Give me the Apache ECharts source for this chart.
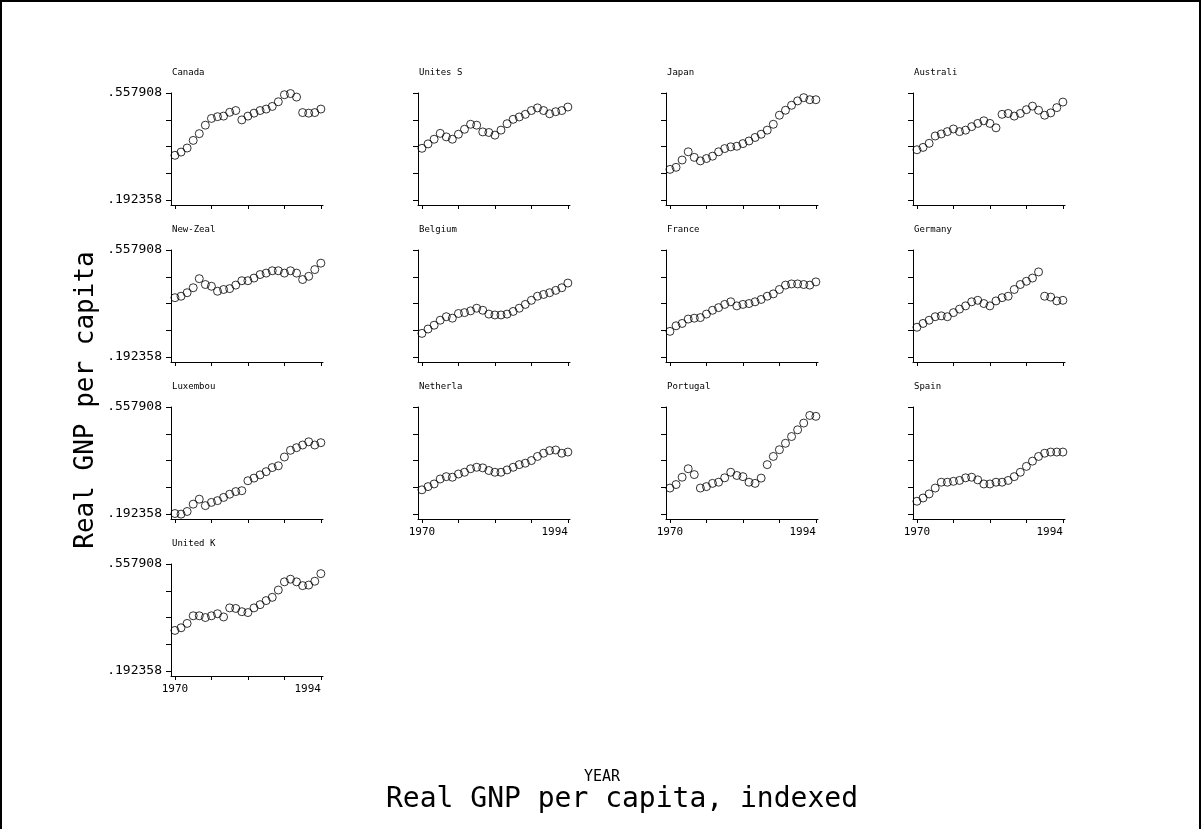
<!DOCTYPE html>
<html>
<head>
<meta charset="utf-8">
<title>Real GNP per capita, indexed</title>
<script src="https://cdn.jsdelivr.net/npm/echarts@6/dist/echarts.min.js"></script>
<style>
  html, body { margin: 0; padding: 0; background: #fff; }
  #chart { width: 1202px; height: 829px; }
</style>
</head>
<body>
<div id="chart"></div>
<script>
// Years on the horizontal axis of every panel
const years = [1970, 1971, 1972, 1973, 1974, 1975, 1976, 1977, 1978, 1979, 1980, 1981, 1982,
               1983, 1984, 1985, 1986, 1987, 1988, 1989, 1990, 1991, 1992, 1993, 1994];

// Real GNP per capita, indexed — one array per country
const canada        = [0.345, 0.356, 0.370, 0.396, 0.419, 0.448, 0.471, 0.477, 0.479, 0.492, 0.498, 0.466, 0.479, 0.489, 0.498, 0.503, 0.512, 0.528, 0.552, 0.556, 0.544, 0.491, 0.489, 0.491, 0.503];
const unitedStates  = [0.369, 0.384, 0.400, 0.420, 0.408, 0.400, 0.417, 0.434, 0.451, 0.448, 0.425, 0.423, 0.414, 0.431, 0.453, 0.468, 0.476, 0.485, 0.498, 0.507, 0.498, 0.487, 0.494, 0.498, 0.510];
const japan         = [0.297, 0.304, 0.329, 0.357, 0.338, 0.326, 0.334, 0.342, 0.357, 0.368, 0.374, 0.376, 0.385, 0.394, 0.406, 0.417, 0.431, 0.451, 0.482, 0.499, 0.516, 0.531, 0.542, 0.535, 0.535];
const australia     = [0.364, 0.372, 0.386, 0.411, 0.418, 0.426, 0.435, 0.426, 0.431, 0.443, 0.454, 0.463, 0.454, 0.439, 0.485, 0.488, 0.479, 0.488, 0.501, 0.513, 0.499, 0.482, 0.490, 0.508, 0.527];
const newZealand    = [0.395, 0.400, 0.412, 0.429, 0.460, 0.440, 0.434, 0.417, 0.423, 0.426, 0.438, 0.453, 0.453, 0.462, 0.474, 0.479, 0.487, 0.487, 0.479, 0.487, 0.479, 0.457, 0.468, 0.491, 0.513];
const belgium       = [0.273, 0.288, 0.301, 0.318, 0.330, 0.325, 0.341, 0.344, 0.350, 0.359, 0.352, 0.339, 0.336, 0.336, 0.339, 0.348, 0.359, 0.372, 0.386, 0.400, 0.406, 0.412, 0.420, 0.429, 0.445];
const france        = [0.280, 0.299, 0.307, 0.322, 0.325, 0.327, 0.339, 0.352, 0.361, 0.372, 0.381, 0.367, 0.372, 0.375, 0.381, 0.389, 0.400, 0.408, 0.423, 0.438, 0.442, 0.442, 0.440, 0.438, 0.449];
const germany       = [0.294, 0.307, 0.318, 0.330, 0.333, 0.330, 0.344, 0.356, 0.367, 0.381, 0.386, 0.375, 0.367, 0.384, 0.395, 0.400, 0.423, 0.440, 0.451, 0.462, 0.483, 0.400, 0.397, 0.384, 0.386];
const luxembourg    = [0.194, 0.192, 0.201, 0.226, 0.243, 0.221, 0.232, 0.238, 0.249, 0.260, 0.269, 0.272, 0.306, 0.315, 0.326, 0.337, 0.351, 0.357, 0.387, 0.410, 0.419, 0.428, 0.439, 0.428, 0.436];
const netherlands   = [0.275, 0.286, 0.295, 0.312, 0.320, 0.318, 0.329, 0.335, 0.347, 0.352, 0.350, 0.341, 0.335, 0.335, 0.343, 0.352, 0.361, 0.366, 0.375, 0.389, 0.400, 0.409, 0.411, 0.400, 0.404];
const portugal      = [0.281, 0.293, 0.318, 0.347, 0.327, 0.281, 0.286, 0.297, 0.301, 0.316, 0.335, 0.324, 0.320, 0.301, 0.297, 0.315, 0.361, 0.389, 0.412, 0.434, 0.457, 0.480, 0.503, 0.529, 0.526];
const spain         = [0.236, 0.247, 0.261, 0.281, 0.301, 0.301, 0.304, 0.307, 0.316, 0.318, 0.309, 0.295, 0.295, 0.301, 0.301, 0.307, 0.320, 0.335, 0.355, 0.373, 0.389, 0.400, 0.404, 0.404, 0.404];
const unitedKingdom = [0.331, 0.340, 0.355, 0.381, 0.381, 0.375, 0.381, 0.388, 0.377, 0.408, 0.406, 0.395, 0.392, 0.408, 0.419, 0.433, 0.444, 0.469, 0.497, 0.506, 0.497, 0.484, 0.486, 0.499, 0.525];

// Panel captions (truncated names, as printed)
const panelNames = ['Canada', 'Unites S', 'Japan', 'Australi',
                    'New-Zeal', 'Belgium', 'France', 'Germany',
                    'Luxembou', 'Netherla', 'Portugal', 'Spain',
                    'United K'];
const panelData = [canada, unitedStates, japan, australia,
                   newZealand, belgium, france, germany,
                   luxembourg, netherlands, portugal, spain,
                   unitedKingdom];

// Axis ticks
const yTicks = [0.192358, 0.2837455, 0.375133, 0.4665205, 0.557908];
const yLabelTicks = [0.192358, 0.557908];
const xTicks = [1970, 1976, 1982, 1988, 1994];
const xLabelTicks = [1970, 1994];

// Layout of the 4-column panel grid
const colLeft = [171, 418, 666, 913];
const rowTop = [93, 250, 407, 564];
const plotW = 152;
const plotH = 112;
const nCols = 4;
const nPanels = panelNames.length;
const FONT = 'DejaVu Sans Mono';

const grids = [], xAxes = [], yAxes = [], series = [], titles = [];

for (let i = 0; i < nPanels; i++) {
  const r = Math.floor(i / nCols), c = i % nCols;
  // bottom panel of each column carries the year labels
  const isBottom = (i + nCols) >= nPanels;
  grids.push({ left: colLeft[c], top: rowTop[r], width: plotW, height: plotH });
  xAxes.push({
    type: 'value', gridIndex: i, min: 1969.35, max: 1994.35,
    axisLine: { show: true, onZero: false, lineStyle: { color: '#000', width: 1 } },
    axisTick: { show: true, customValues: xTicks, length: 4, lineStyle: { color: '#000' } },
    axisLabel: {
      show: isBottom, customValues: xLabelTicks, margin: 8,
      fontFamily: FONT, fontSize: 11, color: '#000',
      alignMaxLabel: 'right',
      formatter: v => String(Math.round(v))
    },
    splitLine: { show: false }
  });
  yAxes.push({
    type: 'value', gridIndex: i, min: 0.1753, max: 0.557908,
    axisLine: { show: true, onZero: false, lineStyle: { color: '#000', width: 1 } },
    axisTick: { show: true, customValues: yTicks, length: 5, lineStyle: { color: '#000' } },
    axisLabel: {
      show: c === 0, customValues: yLabelTicks, margin: 9,
      fontFamily: FONT, fontSize: 13, color: '#000',
      formatter: v => v.toFixed(6).slice(1)
    },
    splitLine: { show: false }
  });
  series.push({
    type: 'scatter', xAxisIndex: i, yAxisIndex: i,
    data: years.map((yr, j) => [yr, panelData[i][j]]),
    symbol: 'circle', symbolSize: 8,
    itemStyle: { color: 'rgba(0,0,0,0)', borderColor: '#000', borderWidth: 1 },
    silent: true
  });
  titles.push({
    text: panelNames[i], left: colLeft[c] + 1, top: rowTop[r] - 25, padding: 0,
    textStyle: { fontFamily: FONT, fontSize: 9, fontWeight: 'normal', color: '#000' }
  });
}

titles.push({
  text: 'YEAR', left: 602, top: 770, textAlign: 'center', padding: 0,
  textStyle: { fontFamily: FONT, fontSize: 15, fontWeight: 'normal', color: '#000' }
});
titles.push({
  text: 'Real GNP per capita, indexed', left: 622, top: 786, textAlign: 'center', padding: 0,
  textStyle: { fontFamily: FONT, fontSize: 28, fontWeight: 'normal', color: '#000' }
});

const chart = echarts.init(document.getElementById('chart'), null, { renderer: 'canvas' });
chart.setOption({
  backgroundColor: '#fff',
  animation: false,
  title: titles,
  grid: grids,
  xAxis: xAxes,
  yAxis: yAxes,
  series: series,
  graphic: [
    {
      type: 'text', x: 86, y: 400, rotation: Math.PI / 2,
      style: {
        text: 'Real GNP per capita', fontFamily: FONT, fontSize: 26,
        fill: '#000', align: 'center', verticalAlign: 'middle'
      }
    },
    {
      type: 'polyline', silent: true,
      shape: { points: [[1, 829], [1, 1], [1200, 1], [1200, 829]] },
      style: { stroke: '#000', lineWidth: 2, fill: null }
    }
  ]
});
</script>
</body>
</html>
